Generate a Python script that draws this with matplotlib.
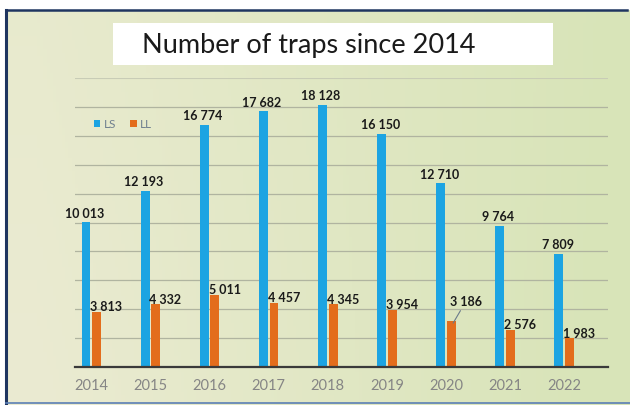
import matplotlib
matplotlib.use("Agg")
import matplotlib.pyplot as plt
import numpy as np
from matplotlib.colors import to_rgb
from matplotlib.patches import Rectangle
from matplotlib.lines import Line2D

years = ["2014", "2015", "2016", "2017", "2018", "2019", "2020", "2021", "2022"]
ls_values = [10013, 12193, 16774, 17682, 18128, 16150, 12710, 9764, 7809]
ll_values = [3813, 4332, 5011, 4457, 4345, 3954, 3186, 2576, 1983]
series_names = ["LS", "LL"]
title = "Number of traps since 2014"

BLUE = "#1ca4e2"
ORANGE = "#e36d1c"
NAVY = "#1f3560"

plt.rcParams["font.family"] = ["Lato", "DejaVu Sans"]

fig = plt.figure(figsize=(6.3, 4.05), dpi=100)
fig.patch.set_facecolor("white")

# slide background: cream on the left, pale green to the right
bg = fig.add_axes([0.01, 0.0, 0.99, 0.975], zorder=-10)
bg.set_axis_off()
nx, ny = 200, 120
gx = np.linspace(0, 1, nx)[None, :]
gy = np.linspace(0, 1, ny)[:, None]
left_c = np.array(to_rgb("#ebebd2"))
right_c = np.array(to_rgb("#d8e4b8"))
top_c = np.array(to_rgb("#dbe6bc"))
t = np.clip(gx * 1.1 - 0.05, 0, 1)
img = left_c * (1 - t[..., None]) + right_c * t[..., None]
img = img * (0.8 + 0.2 * gy[..., None]) + top_c * (0.2 - 0.2 * gy[..., None])
img = np.broadcast_to(img, (ny, nx, 3))
bg.imshow(img, aspect="auto", extent=[0, 1, 0, 1], origin="upper")
bg.set_xlim(0, 1)
bg.set_ylim(0, 1)

# slide frame lines
fig.add_artist(Line2D([6 / 630, 6 / 630], [0.005, 1 - 10 / 405], color=NAVY, lw=2.2))
fig.add_artist(Line2D([6 / 630, 627 / 630], [1 - 10 / 405, 1 - 10 / 405], color=NAVY, lw=1.8))
fig.add_artist(Line2D([6 / 630, 1.0], [0.004, 0.004], color="#5b7fb5", lw=1.2))

# title box
fig.add_artist(Rectangle((113 / 630, 1 - 65 / 405), 440 / 630, 42 / 405,
                         transform=fig.transFigure, facecolor="white",
                         edgecolor="none", zorder=2))
fig.text(309 / 630, 1 - 45 / 405, title, ha="center", va="center",
         fontsize=19.5, color="#1a1a1a", zorder=3)

ax = fig.add_axes([75 / 630, 38 / 405, 533 / 630, 289 / 405])
ax.patch.set_alpha(0)

x = np.arange(len(years))
w = 0.15
bars_ls = ax.bar(x - 0.09, ls_values, width=w, color=BLUE, zorder=3, label=series_names[0])
bars_ll = ax.bar(x + 0.09, ll_values, width=w, color=ORANGE, zorder=3, label=series_names[1])

ax.set_xlim(-0.276, 8.74)
ax.set_ylim(0, 20000)
ax.set_yticks(np.arange(2000, 20000, 2000))
ax.yaxis.grid(True, color="#b0b4a0", lw=0.9, zorder=1)
ax.axhline(20000, color="#c8ccb6", lw=0.8, zorder=1)
ax.set_yticklabels([])
ax.tick_params(axis="y", length=0)
ax.set_xticks(x)
ax.set_xticklabels(years, fontsize=10.5, color="#858585")
ax.tick_params(axis="x", length=0, pad=9)
for side in ["top", "right", "left"]:
    ax.spines[side].set_visible(False)
ax.spines["bottom"].set_color("#3a3a3a")
ax.spines["bottom"].set_linewidth(1.6)
ax.spines["bottom"].set_zorder(4)


def fmt(v):
    return f"{v:,}".replace(",", " ")


for b, v in zip(bars_ls, ls_values):
    ax.annotate(fmt(v), (b.get_x() + b.get_width() / 2, v), xytext=(-1, 2),
                textcoords="offset points", ha="center", va="bottom",
                fontsize=9, fontweight="bold", color="#1a1a1a", zorder=5)

for i, (b, v) in enumerate(zip(bars_ll, ll_values)):
    cx = b.get_x() + b.get_width() / 2
    if years[i] == "2020":
        # this label was pulled up with a leader line
        ax.annotate(fmt(v), (cx + 0.03, v - 150), xytext=(9, 11),
                    textcoords="offset points", ha="center", va="bottom",
                    fontsize=9, fontweight="bold", color="#1a1a1a", zorder=5,
                    arrowprops=dict(arrowstyle="-", color="#6a7a8a", lw=0.8,
                                    shrinkA=0, shrinkB=0))
    else:
        ax.annotate(fmt(v), (cx, v), xytext=(7, -1),
                    textcoords="offset points", ha="center", va="bottom",
                    fontsize=9, fontweight="bold", color="#1a1a1a", zorder=5)

leg = ax.legend(loc="center left", bbox_to_anchor=(0.015, 0.84), frameon=False,
                ncol=2, handlelength=0.55, handleheight=0.55, columnspacing=1.2,
                handletextpad=0.3, fontsize=8.5)
for txt in leg.get_texts():
    txt.set_color("#6f7f8f")

fig.savefig("out.png", dpi=100)
